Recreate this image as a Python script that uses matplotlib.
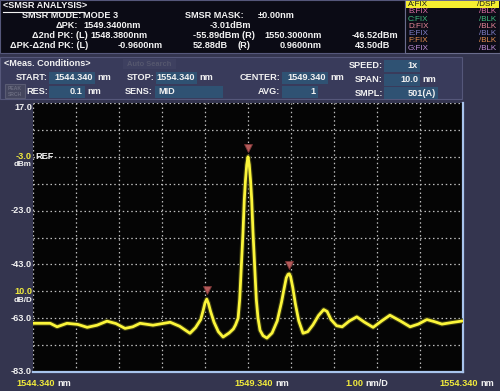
import matplotlib
matplotlib.use("Agg")
import matplotlib.pyplot as plt
from matplotlib.patches import Rectangle

# trace (nm, dBm)
wavelength = [1544.34, 1544.74, 1544.90, 1545.13, 1545.38, 1545.60, 1545.83, 1546.06,
              1546.27, 1546.48, 1546.66, 1546.83, 1547.13, 1547.35, 1547.53, 1547.75,
              1547.99, 1548.12, 1548.24, 1548.30, 1548.34, 1548.38, 1548.42, 1548.47,
              1548.55, 1548.65, 1548.76, 1548.90, 1549.00, 1549.05, 1549.11, 1549.147,
              1549.184, 1549.224, 1549.254, 1549.28, 1549.31, 1549.34, 1549.37, 1549.40,
              1549.426, 1549.456, 1549.496, 1549.533, 1549.573, 1549.62, 1549.69, 1549.78,
              1549.90, 1550.02, 1550.12, 1550.18, 1550.23, 1550.27, 1550.30, 1550.33,
              1550.38, 1550.44, 1550.52, 1550.62, 1550.73, 1550.85, 1550.98, 1551.10,
              1551.18, 1551.27, 1551.40, 1551.53, 1551.70, 1551.87, 1552.05, 1552.25,
              1552.45, 1552.64, 1552.88, 1553.11, 1553.30, 1553.50, 1553.68, 1553.85,
              1554.08, 1554.34]
power = [-64.9, -64.9, -66.2, -64.9, -65.3, -66.4, -65.6, -64.1,
         -65.0, -66.8, -66.2, -64.9, -65.6, -65.0, -64.5, -66.0,
         -68.6, -66.5, -63.5, -60.0, -57.3, -55.9, -57.5, -60.5,
         -64.5, -68.0, -70.0, -68.5, -67.0, -65.5, -63.0, -56.0,
         -44.0, -31.0, -19.0, -12.0, -6.0, -3.0, -6.0, -12.0,
         -19.0, -31.0, -44.0, -56.0, -63.0, -67.5, -69.5, -70.4,
         -68.5, -64.0, -57.0, -52.0, -48.0, -46.7, -46.5, -47.5,
         -51.5, -57.5, -64.0, -68.6, -68.0, -65.5, -62.0, -59.8,
         -60.5, -63.5, -65.8, -66.2, -64.0, -62.5, -64.5, -66.4,
         -64.0, -61.9, -64.0, -66.2, -65.2, -63.5, -64.3, -65.2,
         -64.6, -64.0]

peak_wl = [1548.38, 1549.34, 1550.30]
peak_dbm = [-55.89, -3.01, -46.52]

x_start, x_stop = 1544.340, 1554.340
y_top, y_bottom = 17.0, -83.0
y_ticks = [17.0, -3.0, -23.0, -43.0, -63.0, -83.0]

W, H = 500, 391
SLATE = '#34354f'
PANEL = '#393b5b'
VALBOX = '#2f5273'
WHITE = '#f2f2f2'
YEL = '#f0ea3c'
FONT = 'Liberation Sans'

fig = plt.figure(figsize=(W / 100, H / 100), dpi=100, facecolor=SLATE)


def px(x, y):
    return x / W, 1 - y / H


def box(x0, y0, x1, y1, fc, ec='none', lw=0.8):
    fig.patches.append(Rectangle((x0 / W, 1 - y1 / H), (x1 - x0) / W, (y1 - y0) / H,
                                 transform=fig.transFigure, fc=fc, ec=ec, lw=lw, zorder=0))


def txt(x, y, s, color=WHITE, ha='left', size=6.6, weight='bold', **kw):
    fig.text(*px(x, y), s, color=color, ha=ha, va='center', fontsize=size,
             fontweight=weight, family=FONT, **kw)


# header panel
box(0, 0, 405, 53, '#0b0b15', '#55577a')
box(405, 0, 500, 53, '#0d0d18', '#6a6c8c')
txt(3, 6, '<SMSR ANALYSIS>')
fig.lines.append(plt.Line2D([3 / W, 84 / W], [1 - 11.5 / H, 1 - 11.5 / H],
                            transform=fig.transFigure, color=WHITE, lw=0.8))
txt(22, 16, 'SMSR MODE:')
txt(83, 16, 'MODE 3')
txt(78, 26, 'ΔPK:', ha='right')
txt(83, 26, '1549.3400nm')
txt(88, 35, 'Δ2nd PK: (L)', ha='right')
txt(90, 35, '1548.3800nm')
txt(88, 45, 'ΔPK-Δ2nd PK: (L)', ha='right')
txt(163, 45, '-0.9600nm', ha='right')
txt(185, 16, 'SMSR MASK:')
txt(258, 16, '±0.00nm')
txt(251, 26, '-3.01dBm', ha='right')
txt(193, 35, '-55.89dBm (R)')
txt(322, 35, '1550.3000nm', ha='right')
txt(398, 35, '-46.52dBm', ha='right')
txt(193, 45, '52.88dB')
txt(238, 45, '(R)')
txt(322, 45, '0.9600nm', ha='right')
txt(390, 45, '43.50dB', ha='right')

# trace list
trace_names = ['A', 'B', 'C', 'D', 'E', 'F', 'G']
trace_cols = ['#1a1a1a', '#e070a8', '#40c080', '#e88898', '#8080c8', '#e89050', '#c090d8']
box(406, 1, 499, 8, '#f4ee30')
for i, (n, c) in enumerate(zip(trace_names, trace_cols)):
    yy = 4.5 + i * 7.3
    txt(408, yy, n + ':FIX', color=c, size=5.8, weight='normal')
    txt(496, yy, '/DSP' if n == 'A' else '/BLK', color=c, ha='right', size=5.8, weight='normal')

# measurement conditions panel
box(0, 57, 462, 99, PANEL, '#55577a')
txt(4, 64, '<Meas. Conditions>')
box(123, 59, 176, 69, '#3e4060')
txt(149, 64, 'Auto Search', color='#55576e', ha='center', size=5.4)

fields = [  # label x, row y, label, box x0, box x1, value, unit
    (48, 78, 'START:', 49, 95, '1544.340', 'nm'),
    (155, 78, 'STOP:', 156, 197, '1554.340', 'nm'),
    (281, 78, 'CENTER:', 282, 328, '1549.340', 'nm'),
    (48, 92, 'RES:', 49, 85, '0.1', 'nm'),
    (153, 92, 'SENS:', 155, 223, 'MID', ''),
    (280, 92, 'AVG:', 282, 318, '1', ''),
    (383, 66, 'SPEED:', 384, 420, '1x', ''),
    (383, 80, 'SPAN:', 384, 420, '10.0', 'nm'),
    (383, 93, 'SMPL:', 384, 438, '501(A)', ''),
]
for lx, ly, lab, b0, b1, val, unit in fields:
    box(b0, ly - 5.5, b1, ly + 5.5, VALBOX)
    txt(lx, ly, lab, ha='right')
    if lab == 'SENS:':
        txt(b0 + 3, ly, val)
    else:
        txt(b1 - 2, ly, val, ha='right')
    if unit:
        txt(b1 + 2, ly, unit)
box(5, 84, 25, 98, '#44465e', '#5a5c74')
txt(15, 88, 'PEAK', color='#6a6c80', ha='center', size=3.6)
txt(15, 94, 'SRCH', color='#6a6c80', ha='center', size=3.6)

# spectrum plot
ax = fig.add_axes([px(33, 372)[0], px(33, 372)[1], 430 / W, 269 / H], facecolor='#050505')
ax.set_xlim(x_start, x_stop)
ax.set_ylim(y_bottom, y_top)
ax.set_xticks([x_start + i for i in range(11)])
ax.set_yticks([y_bottom + 10 * i for i in range(11)])
ax.grid(True, color='#bdbdbd', lw=0.9, linestyle=(0, (1.2, 2.2)))
ax.tick_params(length=0, labelbottom=False, labelleft=False)
for s in ['top', 'left']:
    ax.spines[s].set_visible(False)
for s in ['bottom', 'right']:
    ax.spines[s].set_color('#a8c4ec')
    ax.spines[s].set_linewidth(1.6)

ax.plot(wavelength, power, color='#3a3a10', lw=3.6, solid_joinstyle='round', zorder=3)
ax.plot(wavelength, power, color='#fbf53a', lw=2.0, solid_joinstyle='round', zorder=4)
ax.plot(peak_wl, [p + 3.2 for p in peak_dbm], ls='none', marker='v', ms=6,
        color='#b45a5a', mec='#7a3434', mew=0.6, zorder=5)

# y labels
for v in y_ticks:
    yy = 103 + (y_top - v) * 2.69
    if v == y_top:
        yy = 107
    if v == -3.0:
        txt(32, yy, '-3.0', color=YEL, ha='right')
        txt(35, yy, 'REF', color=WHITE)
        txt(32, yy + 8, 'dBm', ha='right', size=5.8)
    else:
        txt(32, yy, '%.1f' % v, ha='right')
txt(32, 291, '10.0', color=YEL, ha='right')
txt(32, 300, 'dB/D', ha='right', size=5.8)

# x labels
txt(55, 383, '1544.340', color=YEL, ha='right')
txt(57, 383, 'nm')
txt(273, 383, '1549.340', color=YEL, ha='right')
txt(275, 383, 'nm')
txt(363, 383, '1.00', color=YEL, ha='right')
txt(365, 383, 'nm/D')
txt(478, 383, '1554.340', color=YEL, ha='right')
txt(480, 383, 'nm')

fig.savefig('out.png', dpi=100, facecolor=SLATE)
